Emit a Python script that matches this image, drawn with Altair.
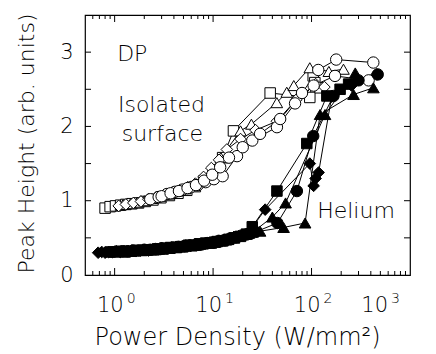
import altair as alt
import pandas as pd

FONT = "DejaVu Sans"
WEIGHT = 200

# ---------------- data ----------------
# Isolated surface (open symbols)
oS_x = [0.80, 0.90, 1.02, 1.15, 1.3, 1.5, 1.75, 2.05, 2.45, 2.95, 3.6, 4.4, 5.4, 6.6, 8.1, 10, 12.5, 16.1, 38, 96, 104, 108, 122]
oS_y = [0.90, 0.92, 0.93, 0.94, 0.95, 0.96, 0.97, 0.99, 1.01, 1.04, 1.07, 1.10, 1.14, 1.19, 1.27, 1.38, 1.58, 1.94, 2.45, 2.39, 2.68, 2.59, 2.52]

oT_x = [1.22, 1.45, 1.7, 2.0, 2.4, 2.9, 3.5, 4.3, 5.2, 6.3, 7.7, 9.4, 12.0, 19, 24.5, 44.4, 56, 66, 96, 150, 211]
oT_y = [0.95, 0.96, 0.98, 1.00, 1.03, 1.06, 1.09, 1.13, 1.16, 1.21, 1.27, 1.37, 1.58, 1.94, 2.03, 2.32, 2.46, 2.55, 2.79, 2.74, 2.77]

oD_x = [1.1, 1.3, 1.55, 1.85, 2.2, 2.65, 3.2, 3.85, 4.6, 5.5, 6.6, 8.0, 9.6, 11.5, 13.8, 19, 27, 44.4, 70, 110, 135]
oD_y = [0.93, 0.95, 0.97, 0.99, 1.02, 1.05, 1.08, 1.11, 1.14, 1.18, 1.23, 1.32, 1.44, 1.55, 1.69, 1.83, 1.95, 2.07, 2.36, 2.57, 2.53]

oC1_x = [2.3, 2.8, 3.4, 4.1, 4.9, 5.9, 7.0, 8.4, 10.2, 12.5, 17.5, 25, 44.5, 68, 105, 173, 380]
oC1_y = [1.02, 1.05, 1.09, 1.12, 1.15, 1.18, 1.21, 1.25, 1.29, 1.33, 1.60, 1.81, 1.99, 2.31, 2.55, 2.68, 2.62]

oC2_x = [3.0, 3.7, 4.5, 5.5, 6.7, 8.1, 9.8, 11.8, 14.5, 20, 30, 48, 80, 117, 178, 424]
oC2_y = [1.06, 1.10, 1.13, 1.17, 1.21, 1.27, 1.35, 1.45, 1.58, 1.72, 1.90, 2.10, 2.45, 2.76, 2.90, 2.86]

# Helium (filled symbols)
fD_x = [0.68, 0.74, 0.80, 0.87, 0.95, 1.04, 1.14, 1.25, 1.37, 1.5, 1.65, 1.82, 2.0, 2.2, 2.45, 2.7, 3.0, 3.35, 3.75, 4.2,
        4.7, 5.3, 5.9, 6.6, 7.4, 8.3, 9.3, 10.4, 11.6, 13, 14.5, 16.2, 18.1, 20.2, 22.5, 33.8, 96, 105, 110, 118, 160, 255, 460]
fD_y = [0.30, 0.31, 0.30, 0.31, 0.31, 0.32, 0.31, 0.32, 0.32, 0.33, 0.32, 0.33, 0.34, 0.33, 0.35, 0.35, 0.36, 0.36, 0.37, 0.38,
        0.38, 0.40, 0.39, 0.41, 0.42, 0.42, 0.44, 0.44, 0.46, 0.47, 0.49, 0.51, 0.52, 0.53, 0.56, 0.88, 1.50, 1.20, 1.30, 1.38, 2.40, 2.55, 2.70]

fS_x = [0.9, 1.0, 1.12, 1.28, 1.45, 1.65, 1.9, 2.15, 2.5, 2.85, 3.25, 3.7, 4.25, 4.9, 5.6, 6.4, 7.3, 8.4, 9.6, 11,
        12.6, 14.4, 16.5, 19, 21.8, 25, 44.5, 89.5, 143, 195, 238]
fS_y = [0.31, 0.31, 0.32, 0.31, 0.32, 0.33, 0.33, 0.34, 0.34, 0.35, 0.36, 0.37, 0.37, 0.38, 0.40, 0.40, 0.42, 0.43, 0.43, 0.45,
        0.46, 0.48, 0.50, 0.52, 0.55, 0.65, 1.13, 1.77, 2.41, 2.50, 2.57]

fC_x = [1.2, 1.35, 1.55, 1.75, 2.0, 2.3, 2.6, 3.0, 3.4, 3.9, 4.45, 5.1, 5.8, 6.7, 7.6, 8.7, 10, 11.4, 13, 14.8,
        17, 19.4, 22.2, 27, 45, 71, 104, 167, 300, 470]
fC_y = [0.32, 0.32, 0.33, 0.33, 0.34, 0.34, 0.35, 0.36, 0.36, 0.37, 0.38, 0.39, 0.40, 0.41, 0.41, 0.43, 0.44, 0.46, 0.47, 0.49,
        0.51, 0.53, 0.55, 0.58, 0.70, 1.13, 1.87, 2.41, 2.62, 2.70]

fT1_x = [1.6, 1.8, 2.05, 2.35, 2.7, 3.1, 3.55, 4.05, 4.6, 5.25, 6.0, 6.9, 7.9, 9.0, 10.3, 11.8, 13.5, 15.4, 17.6, 20.1,
         23, 30, 52, 86, 122, 267, 425]
fT1_y = [0.33, 0.33, 0.34, 0.34, 0.35, 0.35, 0.36, 0.37, 0.38, 0.39, 0.39, 0.41, 0.42, 0.43, 0.44, 0.46, 0.47, 0.50, 0.52, 0.54,
         0.56, 0.59, 0.64, 0.70, 2.16, 2.43, 2.52]

fT2_x = [2.2, 2.6, 3.05, 3.6, 4.2, 4.9, 5.7, 6.6, 7.7, 8.9, 10.4, 12.1, 14, 16.3, 18.9, 22, 25.5, 40, 54.5, 137, 278]
fT2_y = [0.34, 0.34, 0.35, 0.36, 0.37, 0.38, 0.40, 0.40, 0.42, 0.43, 0.44, 0.46, 0.48, 0.50, 0.53, 0.55, 0.58, 0.78, 0.97, 2.16, 2.72]

# axis ticks / labels
x_major = [1, 10, 100]
x_minor = [0.6, 0.7, 0.8, 0.9, 2, 3, 4, 5, 6, 7, 8, 9, 20, 30, 40, 50, 60, 70, 80, 90, 200, 300, 400, 500, 600, 700, 800, 900]
y_ticks = [0.5, 1, 1.5, 2, 2.5, 3]
x_label_vals = [1, 10, 100]
x_label_exps = ["0", "1", "2"]
x_last_val = [1000]
x_last_exp = ["3"]

ann_text = ["DP", "Isolated", "surface", "Helium"]
ann_x = [1.06, 1.08, 1.18, 114]
ann_y = [2.88, 2.19, 1.80, 0.77]

# ---------------- build table ----------------
SIZES = {"square": 110, "triangle-up": 135, "diamond": 135, "circle": 130}
series = [
    ("oS", oS_x, oS_y, "square", "white"),
    ("oT", oT_x, oT_y, "triangle-up", "white"),
    ("oD", oD_x, oD_y, "diamond", "white"),
    ("oC1", oC1_x, oC1_y, "circle", "white"),
    ("oC2", oC2_x, oC2_y, "circle", "white"),
    ("fD", fD_x, fD_y, "diamond", "black"),
    ("fS", fS_x, fS_y, "square", "black"),
    ("fC", fC_x, fC_y, "circle", "black"),
    ("fT1", fT1_x, fT1_y, "triangle-up", "black"),
    ("fT2", fT2_x, fT2_y, "triangle-up", "black"),
]
rows = []
for name, xs, ys, shape, fill in series:
    for a, b in zip(xs, ys):
        rows.append(dict(x=a, y=b, series=name, shape=shape, fill=fill, size=SIZES[shape]))
df = pd.DataFrame(rows)

W, H = 325, 260
xscale = alt.Scale(type="log", domain=[0.5, 1000], nice=False)
yscale = alt.Scale(domain=[0, 3.5], nice=False, zero=False)

X = alt.X("x:Q", scale=xscale, axis=alt.Axis(
    title="Power Density (W/mm²)", labels=False, ticks=False, domain=False, grid=False,
    titleFontSize=24, titleFontWeight=WEIGHT, titleX=152, titleY=69,
    titleBaseline="alphabetic", titleAlign="center"))
Y = alt.Y("y:Q", scale=yscale, axis=alt.Axis(
    title="Peak Height (arb. units)", values=[0, 1, 2, 3], labelFontSize=21, labelFontWeight=WEIGHT,
    labelPadding=12, ticks=False, tickSize=0, domain=False, grid=False,
    titleFontSize=22, titleFontWeight=WEIGHT, titleX=-52, titleY=128, titleAngle=270,
    titleBaseline="alphabetic", titleAlign="center"))

lines = alt.Chart(df).mark_line(color="black", strokeWidth=1).encode(x=X, y=Y, detail="series:N")
points = alt.Chart(df).mark_point(filled=True, stroke="black", strokeWidth=1, opacity=1, fillOpacity=1).encode(
    x=X, y=Y,
    shape=alt.Shape("shape:N", scale=None),
    fill=alt.Fill("fill:N", scale=None),
    size=alt.Size("size:Q", scale=None),
)

dmaj = pd.DataFrame({"x": x_major})
dmin = pd.DataFrame({"x": x_minor})
dy = pd.DataFrame({"y": y_ticks})
rule = dict(color="black", strokeWidth=1)
ticks = [
    alt.Chart(dmaj).mark_rule(**rule).encode(x=X, y=alt.value(H), y2=alt.value(H - 7)),
    alt.Chart(dmin).mark_rule(**rule).encode(x=X, y=alt.value(H), y2=alt.value(H - 4)),
    alt.Chart(dmaj).mark_rule(**rule).encode(x=X, y=alt.value(0), y2=alt.value(7)),
    alt.Chart(dmin).mark_rule(**rule).encode(x=X, y=alt.value(0), y2=alt.value(4)),
    alt.Chart(dy).mark_rule(**rule).encode(y=Y, x=alt.value(0), x2=alt.value(6)),
    alt.Chart(dy).mark_rule(**rule).encode(y=Y, x=alt.value(W), x2=alt.value(W - 6)),
]

dlab = pd.DataFrame({"x": x_label_vals, "e": x_label_exps})
dlast = pd.DataFrame({"x": x_last_val, "e": x_last_exp})
txt = dict(font=FONT, fontWeight=WEIGHT, color="black", baseline="alphabetic")
labels = [
    alt.Chart(dlab).mark_text(align="right", dx=9, fontSize=21, **txt).encode(x=X, y=alt.value(H + 37), text=alt.value("10")),
    alt.Chart(dlab).mark_text(align="left", dx=12, fontSize=14, **txt).encode(x=X, y=alt.value(H + 28), text="e:N"),
    alt.Chart(dlast).mark_text(align="right", dx=-22, fontSize=21, **txt).encode(x=X, y=alt.value(H + 37), text=alt.value("10")),
    alt.Chart(dlast).mark_text(align="left", dx=-19, fontSize=14, **txt).encode(x=X, y=alt.value(H + 28), text="e:N"),
]

dann = pd.DataFrame({"label": ann_text, "x": ann_x, "y": ann_y})
ann = alt.Chart(dann).mark_text(align="left", fontSize=22, **txt).encode(x=X, y=Y, text="label:N")

chart = alt.layer(lines, points, *ticks, *labels, ann).properties(
    width=W, height=H,
    autosize=alt.AutoSizeParams(type="none"),
    padding={"left": 85, "top": 15, "right": 26, "bottom": 79},
).configure_view(stroke="black", strokeWidth=1.2).configure_axis(
    labelFont=FONT, titleFont=FONT, labelColor="black", titleColor="black"
)

chart.save("out.html", embed_options={"renderer": "svg", "actions": False})
